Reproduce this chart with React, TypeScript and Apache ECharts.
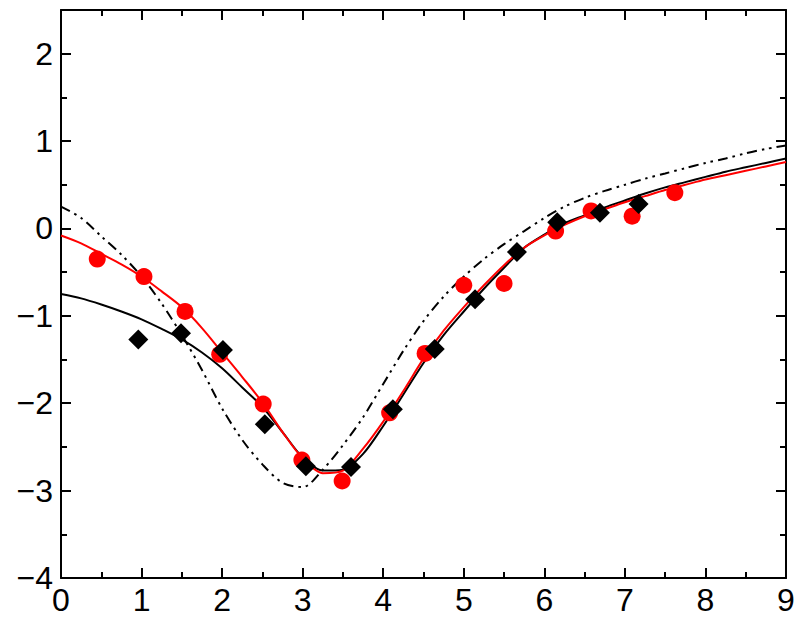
import React, { useEffect, useRef } from "react";
import * as echarts from "echarts";

// Measured points (red circles)
const redPointsX = [0.45, 1.03, 1.54, 1.97, 2.51, 2.99, 3.49, 4.08, 4.52, 5.0, 5.5, 6.14, 6.58, 7.09, 7.62];
const redPointsY = [-0.35, -0.55, -0.95, -1.44, -2.01, -2.65, -2.89, -2.11, -1.43, -0.65, -0.63, -0.03, 0.2, 0.14, 0.41];

// Measured points (black diamonds)
const blackPointsX = [0.96, 1.49, 2.01, 2.53, 3.04, 3.6, 4.12, 4.64, 5.14, 5.66, 6.16, 6.69, 7.17];
const blackPointsY = [-1.27, -1.2, -1.39, -2.24, -2.72, -2.73, -2.07, -1.38, -0.81, -0.27, 0.07, 0.18, 0.28];

// Curves sampled every 0.25 on x
const curveX = [0, 0.25, 0.5, 0.75, 1.0, 1.25, 1.5, 1.75, 2.0, 2.25, 2.5, 2.75, 3.0, 3.25, 3.5, 3.75, 4.0, 4.25, 4.5, 4.75, 5.0, 5.25, 5.5, 5.75, 6.0, 6.25, 6.5, 6.75, 7.0, 7.25, 7.5, 7.75, 8.0, 8.25, 8.5, 8.75, 9.0];

// Red fitted curve
const redCurveY = [-0.08, -0.17, -0.29, -0.41, -0.55, -0.72, -0.9, -1.14, -1.42, -1.7, -1.99, -2.33, -2.63, -2.8, -2.77, -2.52, -2.21, -1.86, -1.49, -1.17, -0.9, -0.65, -0.42, -0.22, -0.08, 0.04, 0.14, 0.22, 0.3, 0.37, 0.44, 0.5, 0.56, 0.61, 0.66, 0.71, 0.76];

// Black solid curve
const blackCurveY = [-0.75, -0.8, -0.87, -0.95, -1.04, -1.15, -1.27, -1.42, -1.6, -1.82, -2.04, -2.33, -2.62, -2.77, -2.76, -2.58, -2.26, -1.9, -1.54, -1.22, -0.95, -0.69, -0.45, -0.22, -0.07, 0.06, 0.15, 0.24, 0.32, 0.4, 0.47, 0.53, 0.59, 0.65, 0.7, 0.75, 0.8];

// Dash-dot-dot curve
const dashCurveY = [0.25, 0.12, -0.09, -0.3, -0.55, -0.86, -1.22, -1.62, -2.06, -2.42, -2.7, -2.91, -2.96, -2.76, -2.48, -2.16, -1.78, -1.4, -1.06, -0.78, -0.55, -0.35, -0.18, -0.03, 0.12, 0.25, 0.35, 0.43, 0.5, 0.57, 0.63, 0.69, 0.75, 0.8, 0.86, 0.91, 0.95];

const xMin = 0, xMax = 9;
const yMin = -4, yMax = 2.5;

const zip = (xs: number[], ys: number[]) => xs.map((x, i) => [x, ys[i]]);

export default function App() {
  const ref = useRef<HTMLDivElement>(null);
  useEffect(() => {
    if (!ref.current) return;
    const chart = echarts.init(ref.current, undefined, { renderer: "svg" });
    const font = "Liberation Sans, Arial, Helvetica, sans-serif";
    const axisCommon = {
      axisLine: { show: true, onZero: false, lineStyle: { color: "#000", width: 2 } },
      axisTick: { show: true, inside: true, length: 10, lineStyle: { color: "#000", width: 2 } },
      minorTick: { show: true, splitNumber: 2, length: 6, lineStyle: { color: "#000", width: 2 } },
      splitLine: { show: false },
      minorSplitLine: { show: false },
    };
    const fmt = (v: number) => (Number.isInteger(v) ? String(v).replace("-", "\u2212") : "");
    chart.setOption({
      animation: false,
      backgroundColor: "#fff",
      grid: { left: 61, right: 14, top: 10, bottom: 48, containLabel: false },
      xAxis: [
        {
          type: "value", min: xMin, max: xMax, interval: 1, position: "bottom",
          ...axisCommon,
          axisLabel: { show: true, fontSize: 32, color: "#000", fontFamily: font, margin: 6, formatter: fmt },
        },
        {
          type: "value", min: xMin, max: xMax, interval: 1, position: "top",
          ...axisCommon,
          axisLabel: { show: false },
        },
      ],
      yAxis: [
        {
          type: "value", min: yMin, max: yMax, interval: 1, position: "left",
          ...axisCommon,
          axisLabel: { show: true, fontSize: 32, color: "#000", fontFamily: font, margin: 8, formatter: fmt, showMaxLabel: false },
        },
        {
          type: "value", min: yMin, max: yMax, interval: 1, position: "right",
          ...axisCommon,
          axisLabel: { show: false },
        },
      ],
      series: [
        {
          type: "line", data: zip(curveX, dashCurveY), smooth: 0.3, showSymbol: false,
          lineStyle: { color: "#000", width: 2, type: [10, 5, 2.5, 5, 2.5, 5] }, z: 2,
        },
        {
          type: "line", data: zip(curveX, blackCurveY), smooth: 0.3, showSymbol: false,
          lineStyle: { color: "#000", width: 2 }, z: 3,
        },
        {
          type: "line", data: zip(curveX, redCurveY), smooth: 0.3, showSymbol: false,
          lineStyle: { color: "#ff0000", width: 2 }, z: 4,
        },
        {
          type: "scatter", data: zip(redPointsX, redPointsY), symbol: "circle", symbolSize: 17,
          itemStyle: { color: "#ff0000", opacity: 1 }, z: 5,
        },
        {
          type: "scatter", data: zip(blackPointsX, blackPointsY), symbol: "diamond", symbolSize: [20, 20],
          itemStyle: { color: "#000", opacity: 1 }, z: 6,
        },
      ],
    });
    return () => chart.dispose();
  }, []);
  return <div ref={ref} style={{ position: "absolute", left: 0, top: 0, width: 800, height: 626 }} />;
}
